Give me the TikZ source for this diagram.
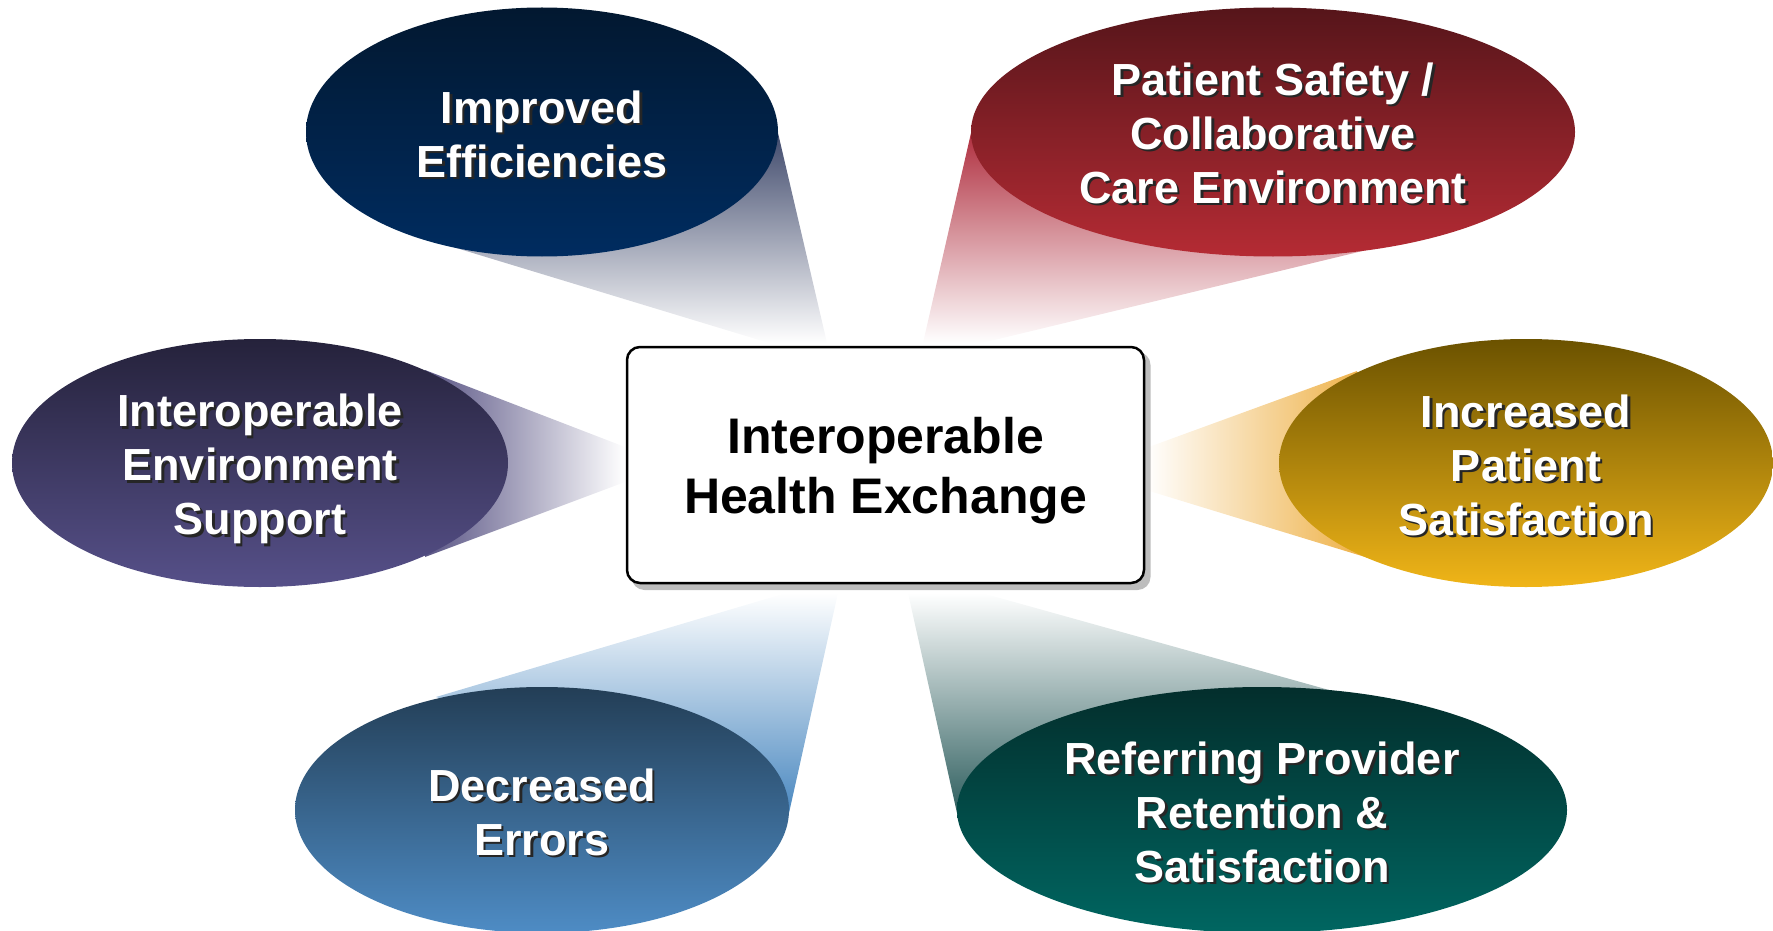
\documentclass[tikz,border=0pt]{standalone}
\usepackage{fontspec}
\setmainfont{Liberation Sans}
\usetikzlibrary{shapes.geometric}
\definecolor{effTop}{HTML}{021830}
\definecolor{effBot}{HTML}{002C60}
\definecolor{safTop}{HTML}{56151A}
\definecolor{safBot}{HTML}{B52B34}
\definecolor{envTop}{HTML}{25223B}
\definecolor{envBot}{HTML}{565089}
\definecolor{incTop}{HTML}{6B5200}
\definecolor{incBot}{HTML}{F0B518}
\definecolor{decTop}{HTML}{233E56}
\definecolor{decBot}{HTML}{4E8CC5}
\definecolor{refTop}{HTML}{032E2C}
\definecolor{refBot}{HTML}{006661}
\definecolor{effCone}{HTML}{404A6C}
\definecolor{safCone}{HTML}{B03040}
\definecolor{envCone}{HTML}{5A5585}
\definecolor{incCone}{HTML}{ECA832}
\definecolor{decCone}{HTML}{4A88C0}
\definecolor{refCone}{HTML}{2E5E5E}
\definecolor{boxShadow}{HTML}{BDBDBD}
\tikzset{
  bubble/.style={ellipse, inner sep=0pt, outer sep=0pt, draw=none},
  lbl/.style={text=white, font=\fontsize{45}{54}\selectfont\bfseries, align=center, inner sep=0pt},
  lblshadow/.style={lbl, text=black!85},
  hub/.style={draw=black, line width=2.5pt, rounded corners=13pt, fill=white,
    minimum width=517pt, minimum height=236pt, inner sep=0pt},
  hubtext/.style={font=\fontsize{50}{60}\selectfont\bfseries, align=center, inner sep=0pt, text=black},
  hubshadow/.style={fill=boxShadow, rounded corners=13pt, draw=none,
    minimum width=519pt, minimum height=238pt, inner sep=0pt},
}
% name, node, downward offset, text
\newcommand\bubblelabel[4]{%
  \node[lblshadow] (#1s) at ([shift={(2.5,#3+2.5)}]#2.center) {#4};
  \node[lbl] (#1) at ([shift={(0,#3)}]#2.center) {#4};}
\begin{document}
\begin{tikzpicture}[x=1pt,y=-1pt]
\useasboundingbox (0,0) rectangle (1773,931);
% cones
\shade[top color=effCone, bottom color=white] (778,133) -- (827,343) -- (769,343) -- (453,247) -- cycle;
\shade[top color=safCone, bottom color=white] (971,133) -- (923,343) -- (982,343) -- (1375,248) -- cycle;
\shade[left color=envCone, right color=white] (425,370) -- (625,447) -- (625,482) -- (425,557) -- cycle;
\shade[left color=white, right color=incCone] (1357,371) -- (1146,448) -- (1146,490) -- (1388,564) -- cycle;
\shade[top color=white, bottom color=decCone] (786,593) -- (838,593) -- (789,813) -- (436,697) -- cycle;
\shade[top color=white, bottom color=refCone] (908,593) -- (982,593) -- (1347,695) -- (957,813) -- cycle;
% bubbles
\node[bubble, top color=effTop, bottom color=effBot, minimum width=472pt, minimum height=249pt] (e1) at (542,132) {};
\node[bubble, top color=safTop, bottom color=safBot, minimum width=604pt, minimum height=249pt] (e2) at (1273,132) {};
\node[bubble, top color=envTop, bottom color=envBot, minimum width=496pt, minimum height=248pt] (e3) at (260,463) {};
\node[bubble, top color=incTop, bottom color=incBot, minimum width=494pt, minimum height=248pt] (e4) at (1526,463) {};
\node[bubble, top color=decTop, bottom color=decBot, minimum width=494pt, minimum height=246pt] (e5) at (542,810) {};
\node[bubble, top color=refTop, bottom color=refBot, minimum width=610pt, minimum height=246pt] (e6) at (1262,810) {};
% hub
\node[hubshadow] (hubs) at (891,471) {};
\node[hub] (hub) at (885.5,465) {};
\node[hubtext] (hubt) at ([shift={(0,6)}]hub.center) {Interoperable\\Health Exchange};
% labels
\bubblelabel{t1}{e1}{2}{Improved\\Efficiencies}
\bubblelabel{t2}{e2}{1}{Patient Safety /\\Collaborative\\Care Environment}
\bubblelabel{t3}{e3}{6}{Interoperable\\Environment\\Support}
\bubblelabel{t4}{e4}{2}{Increased\\Patient\\Satisfaction}
\bubblelabel{t5}{e5}{2}{Decreased\\Errors}
\bubblelabel{t6}{e6}{2}{Referring Provider\\Retention \&\\Satisfaction}
\end{tikzpicture}
\end{document}
